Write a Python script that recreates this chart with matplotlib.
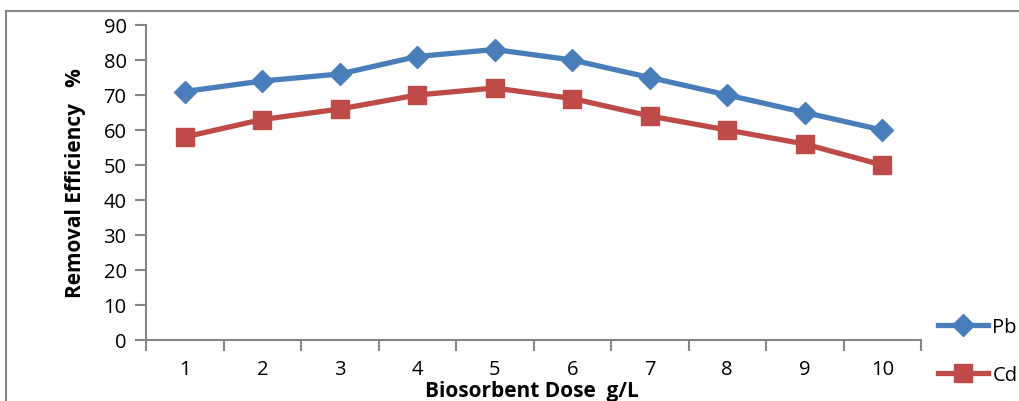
import matplotlib
matplotlib.use("Agg")
import matplotlib.pyplot as plt
from matplotlib.lines import Line2D

doses = [1, 2, 3, 4, 5, 6, 7, 8, 9, 10]
pb = [71, 74, 76, 81, 83, 80, 75, 70, 65, 60]
cd = [58, 63, 66, 70, 72, 69, 64, 60, 56, 50]
yticks = [0, 10, 20, 30, 40, 50, 60, 70, 80, 90]

W, H = 1019, 402
fig = plt.figure(figsize=(W / 100, H / 100), dpi=100)
plt.rcParams['font.family'] = ['Open Sans', 'DejaVu Sans']

x0, x1 = 146, 921
y0, y1 = 341, 26
ax = fig.add_axes([x0 / W, 1 - y0 / H, (x1 - x0) / W, (y0 - y1) / H])

pos = list(range(len(doses)))
ax.plot(pos, pb, color='#4A7EBB', lw=3.8, marker='D', ms=11, label='Pb', solid_joinstyle='round')
ax.plot(pos, cd, color='#BE4B48', lw=3.8, marker='s', ms=13, label='Cd', solid_joinstyle='round')

ax.set_xlim(-0.5, len(doses) - 0.5)
ax.set_ylim(0, 90)
ax.set_yticks(yticks)
ax.set_xticks(pos)
ax.set_xticklabels([str(d) for d in doses])
ax.set_xticks([p - 0.5 for p in pos] + [len(doses) - 0.5], minor=True)

gray = '#868686'
for s in ['top', 'right']:
    ax.spines[s].set_visible(False)
for s in ['left', 'bottom']:
    ax.spines[s].set_color(gray)
    ax.spines[s].set_linewidth(1.5)
ax.tick_params(axis='y', which='major', direction='out', length=8, width=1.5, color=gray,
               labelsize=14.5, pad=6)
ax.tick_params(axis='x', which='major', length=0, labelsize=14.5, pad=14)
ax.tick_params(axis='x', which='minor', direction='out', length=8, width=1.5, color=gray)

fig.text(532 / W, 1 - 392 / H, 'Biosorbent Dose  g/L', ha='center', va='center',
         fontsize=15, fontweight='bold')
fig.text(75 / W, 1 - 183 / H, 'Removal Efficiency   %', ha='center', va='center',
         rotation=90, fontsize=15, fontweight='bold')

leg = fig.legend(loc='upper left', bbox_to_anchor=(930 / W, 1 - 310 / H), frameon=False,
                 fontsize=14.5, handlelength=2.5, labelspacing=1.4, handletextpad=0.2,
                 borderaxespad=0)

# chart border (top and left visible)
fig.add_artist(Line2D([6 / W, 6 / W], [0, 1 - 12 / H], transform=fig.transFigure,
                      color=gray, lw=1.5))
fig.add_artist(Line2D([6 / W, 1], [1 - 12 / H, 1 - 12 / H], transform=fig.transFigure,
                      color=gray, lw=1.5))

fig.savefig('out.png', dpi=100)
